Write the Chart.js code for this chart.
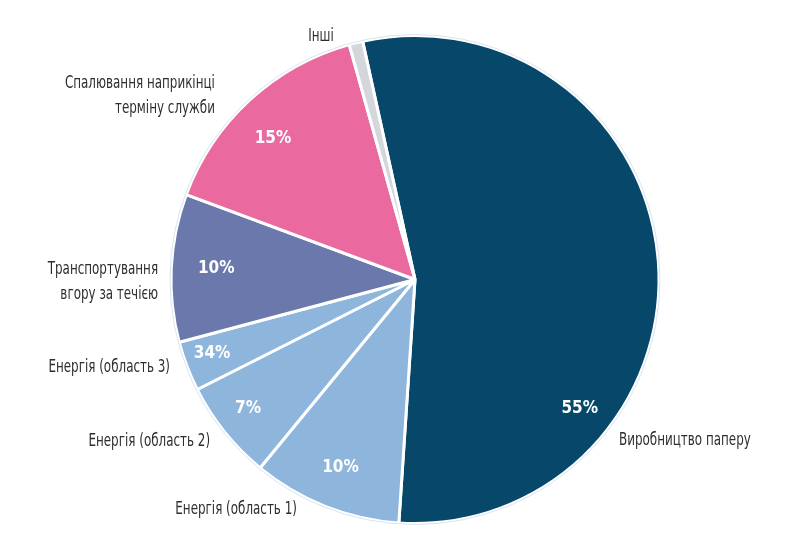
<!DOCTYPE html>
<html>
<head>
<meta charset="utf-8">
<script src="https://cdn.jsdelivr.net/npm/chart.js@4.4.1/dist/chart.umd.min.js"></script>
<style>
html,body{margin:0;padding:0;background:#fff;}
#wrap{width:805px;height:552px;position:relative;}
</style>
</head>
<body>
<div id="wrap"><canvas id="c" width="805" height="552"></canvas></div>
<script>
// ---- data ----
const categories = [
  "Виробництво паперу",
  "Енергія (область 1)",
  "Енергія (область 2)",
  "Енергія (область 3)",
  "Транспортування вгору за течією",
  "Спалювання наприкінці терміну служби",
  "Інші"
];
const values = [54.5, 9.9, 6.6, 3.3, 9.8, 15.0, 0.9];
const valueLabels = ["55%", "10%", "7%", "34%", "10%", "15%", ""];
const labelLines = [
  ["Виробництво паперу"],
  ["Енергія (область 1)"],
  ["Енергія (область 2)"],
  ["Енергія (область 3)"],
  ["Транспортування", "вгору за течією"],
  ["Спалювання наприкінці", "терміну служби"],
  ["Інші"]
];
const colors = ["#06476a", "#8eb5dc", "#8eb5dc", "#8eb5dc", "#6a78ab", "#ea6a9f", "#d3d6da"];

// label placement (relative to pie centre, in units of radius)
const pctPos = [[128,0.857],[201.6,0.83],[232.3,0.865],[250,0.885],[-86.8,0.816],[-45.2,0.82],null];
const namePos = [
  [0.836,0.66,'left'],
  [-0.484,0.943,'right'],
  [-0.84,0.664,'right'],
  [-1.004,0.361,'right'],
  [-1.053,-0.041,'right'],
  [-0.82,-0.803,'right'],
  [-0.385,-0.996,'center']
];

const FONT = '"DejaVu Sans Condensed", "Liberation Sans Narrow", "Roboto", sans-serif';

const labelPlugin = {
  id: 'labels',
  afterDatasetsDraw(chart) {
    const ctx = chart.ctx;
    const meta = chart.getDatasetMeta(0);
    const arc0 = meta.data[0];
    const cx = arc0.x, cy = arc0.y, R = arc0.outerRadius;
    ctx.save();
    // faint outer outline
    ctx.beginPath();
    ctx.arc(cx, cy, R + 1, 0, Math.PI * 2);
    ctx.strokeStyle = 'rgba(190,210,230,0.6)';
    ctx.lineWidth = 1;
    ctx.stroke();
    ctx.textBaseline = 'middle';
    // percentages
    ctx.fillStyle = '#ffffff';
    ctx.font = 'bold 17px ' + FONT;
    ctx.textAlign = 'center';
    meta.data.forEach((arc, i) => {
      const p = pctPos[i];
      if (!p || !valueLabels[i]) return;
      const a = p[0] * Math.PI / 180;
      const x = cx + Math.sin(a) * R * p[1];
      const y = cy - Math.cos(a) * R * p[1];
      ctx.fillText(valueLabels[i], x, y);
    });
    // names
    ctx.fillStyle = '#2e2e2e';
    ctx.font = '17px ' + FONT;
    labelLines.forEach((lines, i) => {
      const p = namePos[i];
      ctx.textAlign = p[2];
      lines.forEach((t, k) => {
        ctx.save();
        ctx.translate(cx + p[0] * R, cy + p[1] * R + k * 25);
        ctx.scale(0.78, 1);
        ctx.fillText(t, 0, 0);
        ctx.restore();
      });
    });
    ctx.restore();
  }
};

new Chart(document.getElementById('c'), {
  type: 'pie',
  data: {
    labels: categories,
    datasets: [{
      data: values,
      backgroundColor: colors,
      borderColor: '#ffffff',
      borderWidth: 3,
      hoverOffset: 0
    }]
  },
  options: {
    responsive: false,
    animation: false,
    rotation: -12.4,
    layout: { padding: { top: 34, bottom: 27, left: 25, right: 0 } },
    plugins: { legend: { display: false }, tooltip: { enabled: false } }
  },
  plugins: [labelPlugin]
});
</script>
</body>
</html>
